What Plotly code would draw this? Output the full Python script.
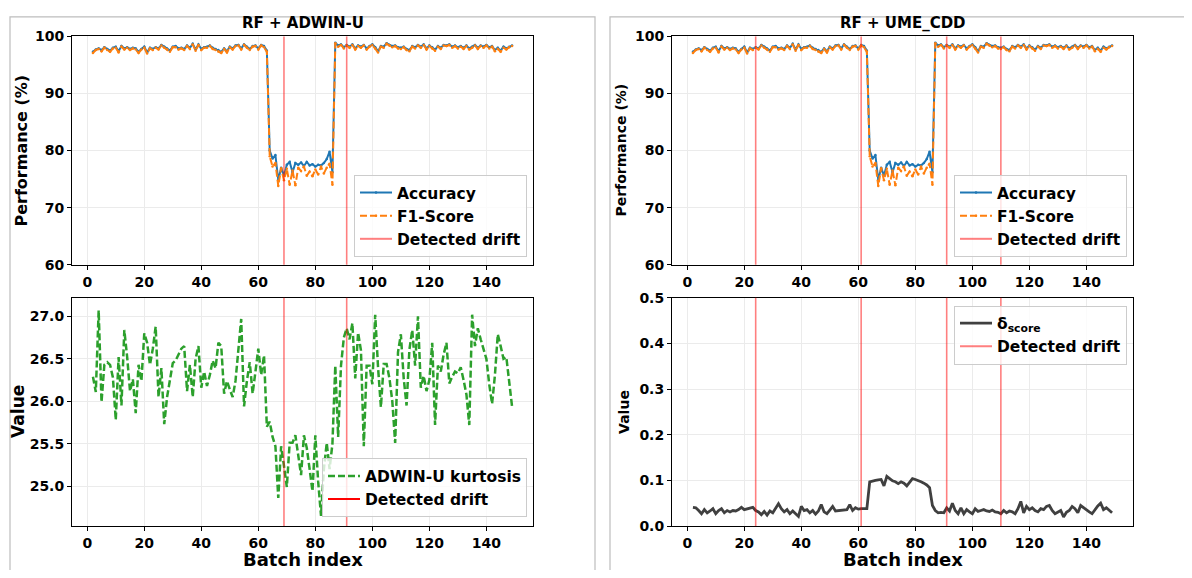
import plotly.graph_objects as go

# The page keeps the browser's default 8px body margin, so the figure is
# 16px smaller than the window and all positions below are window pixels.
WIN_W, WIN_H = 1192, 578
PAD = 8
W, H = WIN_W - 2 * PAD, WIN_H - 2 * PAD

batch = list(range(2, 150))

accuracy = [
    97.3, 97.7, 97.9, 97.6, 98.1, 97.8, 97.5, 98.0, 98.2, 97.4,
    98.3, 97.9, 98.1, 97.8, 98.0, 97.9, 97.3, 97.8, 98.2, 97.2,
    98.0, 97.8, 98.1, 97.9, 98.5, 98.2, 97.9, 97.5, 98.2, 98.3,
    97.9, 98.0, 97.8, 98.4, 98.0, 98.7, 97.7, 98.6, 97.8, 98.1,
    98.2, 98.4, 98.0, 97.8, 97.6, 97.3, 97.9, 97.4, 98.2, 97.9,
    98.4, 98.5, 97.9, 98.6, 98.2, 97.8, 98.3, 98.4, 97.9, 98.5,
    98.3, 97.5, 80.0, 78.6, 79.2, 74.8, 77.0, 75.6, 77.5, 78.0,
    76.2, 77.8, 77.5, 77.9, 77.3, 78.0, 77.4, 77.6, 77.2, 77.5,
    77.4, 77.8, 78.5, 79.8, 76.2, 98.9, 98.4, 98.6, 98.1, 98.5,
    98.2, 98.6, 97.9, 98.4, 98.2, 98.5, 97.9, 98.3, 98.6, 98.1,
    97.4, 98.3, 98.2, 98.8, 98.5, 98.3, 98.4, 98.1, 98.0, 98.2,
    97.8, 97.6, 98.3, 98.1, 98.5, 98.2, 98.6, 97.9, 98.4, 98.1,
    97.7, 98.3, 98.0, 98.5, 98.4, 98.6, 98.2, 98.4, 98.1, 98.3,
    98.0, 98.4, 97.9, 98.2, 98.5, 98.0, 98.4, 98.2, 98.5, 98.1,
    98.3, 97.6, 98.0, 97.5, 98.2, 97.9, 98.2, 98.4,
]

f1_score = [
    97.1, 97.6, 97.8, 97.4, 98.0, 97.6, 97.3, 97.9, 98.0, 97.2,
    98.2, 97.7, 98.0, 97.6, 97.9, 97.7, 97.1, 97.7, 98.0, 97.0,
    97.9, 97.6, 98.0, 97.7, 98.4, 98.0, 97.7, 97.3, 98.1, 98.1,
    97.7, 97.9, 97.6, 98.3, 97.8, 98.6, 97.5, 98.5, 97.6, 98.0,
    98.0, 98.3, 97.8, 97.6, 97.4, 97.1, 97.8, 97.2, 98.1, 97.7,
    98.3, 98.4, 97.7, 98.5, 98.0, 97.6, 98.2, 98.3, 97.7, 98.4,
    98.1, 97.3, 79.0, 77.2, 77.8, 73.8, 76.9, 74.8, 76.8, 74.0,
    76.5, 73.9, 77.0, 76.4, 77.2, 75.6, 76.3, 75.5, 76.7, 75.8,
    77.2, 76.0, 77.0, 77.7, 74.0, 98.8, 98.2, 98.5, 97.9, 98.4,
    98.0, 98.5, 97.7, 98.3, 98.0, 98.4, 97.7, 98.2, 98.5, 97.9,
    97.2, 98.2, 98.0, 98.7, 98.4, 98.1, 98.3, 97.9, 97.8, 98.1,
    97.6, 97.4, 98.2, 97.9, 98.4, 98.0, 98.5, 97.7, 98.3, 97.9,
    97.5, 98.2, 97.8, 98.4, 98.3, 98.5, 98.0, 98.3, 97.9, 98.2,
    97.8, 98.3, 97.7, 98.0, 98.4, 97.8, 98.3, 98.0, 98.4, 97.9,
    98.2, 97.4, 97.8, 97.3, 98.0, 97.7, 98.1, 98.3,
]

kurtosis = [
    26.29, 26.11, 27.07, 25.99, 26.43, 26.46, 26.43, 26.28, 25.78, 26.52,
    25.95, 26.84, 26.52, 26.12, 26.26, 25.86, 26.43, 26.24, 26.80, 26.69,
    26.43, 26.62, 26.88, 26.05, 26.39, 25.73, 26.05, 26.28, 26.45, 26.48,
    26.56, 26.62, 26.65, 26.12, 26.43, 26.05, 26.50, 26.65, 26.16, 26.35,
    26.18, 26.31, 26.48, 26.39, 26.69, 26.65, 26.09, 26.24, 26.14, 26.05,
    26.24, 26.62, 26.97, 25.94, 26.24, 26.46, 26.09, 26.35, 26.62, 26.31,
    26.54, 25.70, 25.76, 25.58, 25.47, 24.86, 25.47, 25.24, 24.99, 25.51,
    25.51, 25.60, 25.39, 25.13, 25.60, 25.45, 25.20, 24.94, 25.60, 25.05,
    24.65, 25.20, 25.51, 25.20, 25.50, 26.42, 25.58, 26.42, 26.75, 26.86,
    26.73, 26.92, 26.27, 26.81, 26.60, 25.47, 26.42, 26.42, 26.20, 27.02,
    26.40, 25.93, 26.44, 26.44, 26.27, 26.00, 25.51, 26.58, 26.79, 26.27,
    25.95, 26.61, 26.84, 26.42, 27.00, 26.16, 26.30, 26.12, 26.25, 26.69,
    25.72, 26.42, 26.35, 26.55, 26.69, 26.21, 26.29, 26.35, 26.33, 26.40,
    26.25, 26.08, 25.72, 27.02, 26.65, 26.86, 26.73, 26.60, 26.50, 26.20,
    25.97, 26.31, 26.79, 26.65, 26.50, 26.52, 26.20, 25.94,
]

delta_score = [
    0.041, 0.040, 0.034, 0.027, 0.036, 0.029, 0.033, 0.038, 0.027, 0.034,
    0.038, 0.029, 0.034, 0.031, 0.034, 0.033, 0.036, 0.041, 0.036, 0.038,
    0.040, 0.041, 0.034, 0.031, 0.025, 0.032, 0.024, 0.033, 0.029, 0.040,
    0.049, 0.038, 0.031, 0.036, 0.027, 0.033, 0.027, 0.021, 0.043, 0.034,
    0.036, 0.029, 0.034, 0.026, 0.033, 0.047, 0.031, 0.027, 0.035, 0.043,
    0.033, 0.034, 0.035, 0.036, 0.036, 0.047, 0.034, 0.040, 0.037, 0.038,
    0.038, 0.038, 0.097, 0.099, 0.100, 0.101, 0.102, 0.088, 0.109, 0.104,
    0.099, 0.097, 0.093, 0.097, 0.094, 0.088, 0.096, 0.104, 0.102, 0.100,
    0.097, 0.094, 0.090, 0.084, 0.045, 0.034, 0.029, 0.030, 0.029, 0.040,
    0.033, 0.050, 0.034, 0.027, 0.040, 0.027, 0.036, 0.031, 0.027, 0.038,
    0.032, 0.034, 0.036, 0.033, 0.032, 0.035, 0.031, 0.030, 0.027, 0.034,
    0.029, 0.033, 0.031, 0.027, 0.038, 0.054, 0.029, 0.043, 0.036, 0.040,
    0.034, 0.031, 0.038, 0.036, 0.043, 0.045, 0.034, 0.027, 0.031, 0.034,
    0.020, 0.030, 0.034, 0.043, 0.038, 0.029, 0.045, 0.040, 0.034, 0.031,
    0.027, 0.036, 0.044, 0.050, 0.036, 0.040, 0.034, 0.029,
]

drift_adwin = [69, 91]
drift_ume = [24, 61, 91, 110]

x_ticks = [0, 20, 40, 60, 80, 100, 120, 140]
perf_ticks = [60, 70, 80, 90, 100]
kurt_ticks = [25.0, 25.5, 26.0, 26.5, 27.0]
delta_ticks = [0.0, 0.1, 0.2, 0.3, 0.4, 0.5]

titles = ["RF + ADWIN-U", "RF + UME_CDD"]

# ---------- styling ----------
FONT = "DejaVu Sans"
BLUE = "#1f77b4"
ORANGE = "#ff7f0e"
GREEN = "#2ca02c"
DARK = "#404040"
DRIFT = "rgba(255,0,0,0.5)"


def fx(p):
    return (p - PAD) / W


def fy(p):
    return 1 - (p - PAD) / H


# axes pixel boxes in window pixels (left, right, top, bottom)
boxes = {
    "1": (72, 533, 29, 264),
    "2": (72, 533, 298, 533),
    "3": (672, 1133, 29, 264),
    "4": (672, 1133, 298, 533),
}

fig = go.Figure()


def add_perf(xa, ya, legend):
    fig.add_trace(go.Scatter(
        x=batch, y=accuracy, mode="lines+markers", name="Accuracy",
        line=dict(color=BLUE, width=2), marker=dict(size=2.5, color=BLUE),
        xaxis=xa, yaxis=ya, legend=legend))
    fig.add_trace(go.Scatter(
        x=batch, y=f1_score, mode="lines+markers", name="F1-Score",
        line=dict(color=ORANGE, width=2, dash="7px,3px"),
        marker=dict(size=2.5, color=ORANGE),
        xaxis=xa, yaxis=ya, legend=legend))


def add_drift_legend(xa, ya, legend, color):
    fig.add_trace(go.Scatter(
        x=[None], y=[None], mode="lines", name="Detected drift",
        line=dict(color=color, width=2), xaxis=xa, yaxis=ya, legend=legend))


# Top-left
add_perf("x", "y", "legend")
add_drift_legend("x", "y", "legend", DRIFT)
# Bottom-left
fig.add_trace(go.Scatter(
    x=batch, y=kurtosis, mode="lines", name="ADWIN-U kurtosis",
    line=dict(color=GREEN, width=2.5, dash="7px,3px"),
    xaxis="x2", yaxis="y2", legend="legend2"))
add_drift_legend("x2", "y2", "legend2", "red")
# Top-right
add_perf("x3", "y3", "legend3")
add_drift_legend("x3", "y3", "legend3", DRIFT)
# Bottom-right
fig.add_trace(go.Scatter(
    x=batch, y=delta_score, mode="lines", name="δ<sub>score</sub>",
    line=dict(color=DARK, width=2.8),
    xaxis="x4", yaxis="y4", legend="legend4"))
add_drift_legend("x4", "y4", "legend4", DRIFT)

shapes = []
for k, drifts in (("1", drift_adwin), ("2", drift_adwin), ("3", drift_ume), ("4", drift_ume)):
    xr = "x" if k == "1" else "x" + k
    yr = "y" if k == "1" else "y" + k
    for d in drifts:
        shapes.append(dict(type="line", xref=xr, yref=yr + " domain",
                           x0=d, x1=d, y0=0, y1=1,
                           line=dict(color=DRIFT, width=1.6), layer="above"))

# outer frames
shapes.append(dict(type="rect", xref="paper", yref="paper",
                   x0=fx(10), x1=fx(595), y0=fy(620), y1=fy(9),
                   line=dict(color="#bdbdbd", width=1.2), layer="below"))
shapes.append(dict(type="rect", xref="paper", yref="paper",
                   x0=fx(610), x1=fx(1230), y0=fy(620), y1=fy(9),
                   line=dict(color="#bdbdbd", width=1.2), layer="below"))

tickfont = dict(family=FONT, size=14, color="black", weight="bold")
axis_common = dict(
    showline=True, mirror=True, linecolor="black", linewidth=1,
    ticks="outside", ticklen=4, tickwidth=1, tickcolor="black",
    showgrid=True, gridcolor="#ebebeb", gridwidth=1, zeroline=False,
    tickfont=tickfont,
)

layout = dict(
    width=W, height=H, autosize=False,
    margin=dict(l=0, r=0, t=0, b=0),
    paper_bgcolor="white", plot_bgcolor="white",
    font=dict(family=FONT, color="black"),
    shapes=shapes,
)

yspecs = {
    "1": dict(range=[60, 100], tickvals=perf_ticks, tickformat="d"),
    "2": dict(range=[24.53, 27.22], tickvals=kurt_ticks, tickformat=".1f"),
    "3": dict(range=[60, 100], tickvals=perf_ticks, tickformat="d"),
    "4": dict(range=[0, 0.5], tickvals=delta_ticks, tickformat=".1f"),
}

for k, (l, r, t, b) in boxes.items():
    xname = "xaxis" if k == "1" else "xaxis" + k
    yname = "yaxis" if k == "1" else "yaxis" + k
    yanchor_name = "y" if k == "1" else "y" + k
    xanchor_name = "x" if k == "1" else "x" + k
    layout[xname] = dict(axis_common, domain=[fx(l), fx(r)], range=[-5.35, 156.35],
                         tickvals=x_ticks, anchor=yanchor_name)
    layout[yname] = dict(axis_common, domain=[fy(b), fy(t)], anchor=xanchor_name,
                         **yspecs[k])

legend_common = dict(
    bgcolor="rgba(255,255,255,0.8)", bordercolor="#cccccc", borderwidth=1,
    font=dict(family=FONT, size=15.5, color="black", weight="bold"),
    xanchor="right", itemwidth=32, tracegroupgap=0,
)
layout["legend"] = dict(legend_common, x=fx(527), y=fy(256), yanchor="bottom")
layout["legend2"] = dict(legend_common, x=fx(527), y=fy(524), yanchor="bottom")
layout["legend3"] = dict(legend_common, x=fx(1127), y=fy(256), yanchor="bottom")
layout["legend4"] = dict(legend_common, x=fx(1127), y=fy(306), yanchor="top")

annotations = []
for title, (l, r, t, b) in ((titles[0], boxes["1"]), (titles[1], boxes["3"])):
    annotations.append(dict(text=title, xref="paper", yref="paper",
                            x=fx((l + r) / 2), y=fy(15), showarrow=False,
                            xanchor="center", yanchor="middle",
                            font=dict(family=FONT, size=15, weight="bold")))
for k in ("2", "4"):
    l, r, t, b = boxes[k]
    annotations.append(dict(text="Batch index", xref="paper", yref="paper",
                            x=fx((l + r) / 2), y=fy(567), showarrow=False,
                            xanchor="center", yanchor="middle",
                            font=dict(family=FONT, size=18, weight="bold")))
ylabels = [
    ("Performance (%)", 22, boxes["1"], 16),
    ("Value", 18, boxes["2"], 17),
    ("Performance (%)", 621, boxes["3"], 14),
    ("Value", 624, boxes["4"], 14),
]
for text, xp, (l, r, t, b), size in ylabels:
    annotations.append(dict(text=text, xref="paper", yref="paper",
                            x=fx(xp), y=fy((t + b) / 2), showarrow=False,
                            textangle=-90, xanchor="center", yanchor="middle",
                            font=dict(family=FONT, size=size, weight="bold")))
layout["annotations"] = annotations

fig.update_layout(**layout)
fig.write_html("out.html", config={"displayModeBar": False})
